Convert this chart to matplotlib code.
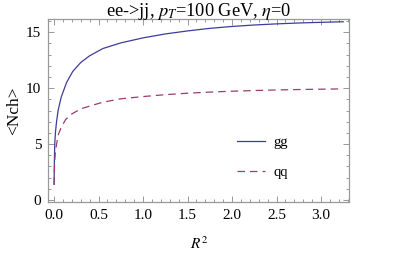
import matplotlib
matplotlib.use('Agg')
import matplotlib.pyplot as plt
from matplotlib.ticker import MultipleLocator

# values (R^2, <Nch>)
r2_gg = [0.0, 0.004, 0.008, 0.015, 0.026, 0.045, 0.08, 0.14, 0.21, 0.30, 0.40,
         0.55, 0.75, 1.0, 1.25, 1.5, 1.75, 2.0, 2.25, 2.5, 2.75, 3.0, 3.25]
nch_gg = [1.4, 3.9, 5.1, 6.0, 6.9, 8.0, 9.2, 10.5, 11.5, 12.3, 12.9,
          13.55, 14.05, 14.5, 14.85, 15.12, 15.35, 15.52, 15.65, 15.75, 15.83, 15.89, 15.94]

r2_qq = [0.0, 0.004, 0.008, 0.015, 0.03, 0.05, 0.08, 0.13, 0.2, 0.3, 0.4,
         0.55, 0.75, 1.0, 1.25, 1.5, 1.75, 2.0, 2.25, 2.5, 2.75, 3.0, 3.25]
nch_qq = [1.35, 2.9, 3.6, 4.3, 5.1, 5.9, 6.5, 7.2, 7.7, 8.15, 8.4,
          8.75, 9.05, 9.25, 9.42, 9.55, 9.65, 9.73, 9.79, 9.84, 9.88, 9.91, 9.94]

labels = ['gg', 'qq']

plt.rcParams['font.family'] = ['Liberation Serif', 'DejaVu Serif']
plt.rcParams['mathtext.fontset'] = 'stix'

fig = plt.figure(figsize=(4.15, 2.59), dpi=100)
ax = fig.add_axes([0.1164, 0.22, 0.7246, 0.7055])

ax.plot(r2_gg, nch_gg, color='#3d3d99', lw=0.9, label=labels[0])
ax.plot(r2_qq, nch_qq, color='#993d72', lw=0.9, dashes=(6, 4), label=labels[1])

ax.set_xlim(-0.065, 3.315)
ax.set_ylim(-0.18, 16.16)

ax.xaxis.set_major_locator(MultipleLocator(0.5))
ax.xaxis.set_minor_locator(MultipleLocator(0.1))
ax.yaxis.set_major_locator(MultipleLocator(5))
ax.yaxis.set_minor_locator(MultipleLocator(1))
ax.xaxis.set_major_formatter(plt.FormatStrFormatter('%.1f'))

for s in ax.spines.values():
    s.set_color('#999999')
    s.set_linewidth(0.9)
ax.tick_params(which='both', direction='in', top=True, right=True,
               color='#999999', labelsize=11, width=0.7)
ax.tick_params(which='major', length=4, pad=5)
ax.tick_params(which='minor', length=2)

# title placed by hand so it stays inside the small canvas
fig.text(0.4795, 0.94, r'ee->jj, $p_T$=100 GeV, $\eta$=0', fontsize=13.2,
         ha='center', va='baseline')
ax.set_xlabel(r'$R^2$', fontsize=11, labelpad=10)
ax.set_ylabel('<Nch>', fontsize=12.5, labelpad=3)

ax.legend(loc='center left', bbox_to_anchor=(0.6275, 0.2436), frameon=False,
          fontsize=10.5, handlelength=1.9, handletextpad=0.6, labelspacing=1.1,
          borderpad=0, borderaxespad=0)

fig.savefig('out.png', dpi=100)
